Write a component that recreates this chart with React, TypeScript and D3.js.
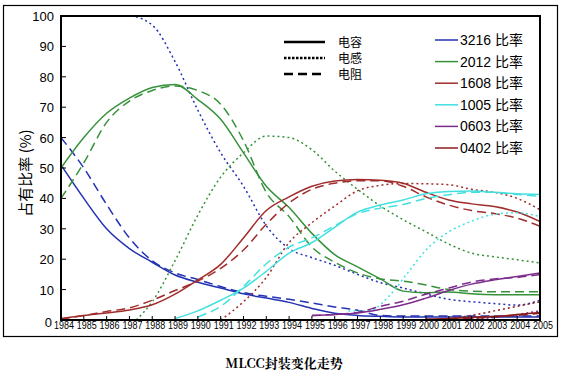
import React from "react";
import * as d3 from "d3";

const years = d3.range(1984, 2006);
const yTicks = [0, 10, 20, 30, 40, 50, 60, 70, 80, 90, 100];

const sizes = ["3216", "2012", "1608", "1005", "0603", "0402"];
const sizeColors = ["#2432b4", "#36923a", "#a02c2c", "#44e0e0", "#7c2c8c", "#8c1c1c"];
const styleNames = ["电容", "电感", "电阻"];

// [year, value] pairs per size / component type
const cap3216: [number, number][] = [[1984, 51], [1985, 40], [1986, 30], [1987, 23.5], [1988, 19], [1989, 14.8], [1990, 12.4], [1991, 10.5], [1992, 8.6], [1993, 7.2], [1994, 5.8], [1995, 3.8], [1996, 2.2], [1997, 1.5], [1998, 1.2], [1999, 1], [2000, 1], [2001, 1], [2002, 1], [2003, 1], [2004, 1], [2005, 1]];
const res3216: [number, number][] = [[1984, 60], [1985, 50], [1986, 38], [1987, 27], [1988, 19.5], [1989, 15.5], [1990, 13.3], [1991, 11], [1992, 9], [1993, 7.8], [1994, 6.8], [1995, 5.6], [1996, 4.3], [1997, 3.2], [1998, 1.5], [1999, 1.3], [2000, 1.3], [2001, 1.3], [2002, 1.3], [2003, 1.3], [2004, 1.3], [2005, 1.3]];
const ind3216: [number, number][] = [[1984, 100], [1985, 100], [1986, 100], [1987, 100], [1988, 97], [1989, 85], [1990, 69], [1991, 55], [1992, 44], [1993, 31], [1994, 23.5], [1995, 20.5], [1996, 18], [1997, 15], [1998, 12.3], [1999, 10.5], [2000, 8.6], [2001, 6.8], [2002, 6], [2003, 5.4], [2004, 4.9], [2005, 6.5]];

const cap2012: [number, number][] = [[1984, 50], [1985, 60], [1986, 68], [1987, 73], [1988, 76.5], [1989, 77.5], [1990, 72.5], [1991, 66], [1992, 55], [1993, 44], [1994, 37], [1995, 28.5], [1996, 21.5], [1997, 17.5], [1998, 13.5], [1999, 9.5], [2000, 9], [2001, 9.2], [2002, 8.6], [2003, 8.3], [2004, 8.3], [2005, 8.3]];
const res2012: [number, number][] = [[1984, 40], [1985, 51.7], [1986, 65], [1987, 72], [1988, 75.5], [1989, 77], [1990, 75.5], [1991, 71], [1992, 59], [1993, 42], [1994, 34], [1995, 24], [1996, 19], [1997, 15.5], [1998, 13.5], [1999, 12.8], [2000, 11.5], [2001, 10], [2002, 9.5], [2003, 9.3], [2004, 9.3], [2005, 9.3]];
const ind2012: [number, number][] = [[1987.3, 0], [1988, 6], [1989, 19.5], [1990, 34.5], [1991, 47], [1992, 55], [1993, 60.5], [1994, 60], [1995, 56], [1996, 49], [1997, 43], [1998, 37.5], [1999, 33], [2000, 29], [2001, 25], [2002, 22], [2003, 20.8], [2004, 19.8], [2005, 18.8]];

const cap1608: [number, number][] = [[1984, 0.5], [1985, 1.5], [1986, 2.3], [1987, 3.3], [1988, 5], [1989, 8.5], [1990, 13.2], [1991, 18.3], [1992, 27], [1993, 36], [1994, 40.5], [1995, 44], [1996, 45.7], [1997, 46.2], [1998, 46], [1999, 45], [2000, 42], [2001, 39.5], [2002, 38.2], [2003, 37.3], [2004, 35.5], [2005, 32.4]];
const res1608: [number, number][] = [[1984, 0.3], [1985, 1.5], [1986, 2.8], [1987, 4], [1988, 6.5], [1989, 9.7], [1990, 12.8], [1991, 17], [1992, 23], [1993, 31.5], [1994, 38.5], [1995, 43], [1996, 45], [1997, 45.8], [1998, 45.8], [1999, 44], [2000, 40.5], [2001, 37.8], [2002, 36], [2003, 35], [2004, 33.5], [2005, 30.8]];
const ind1608: [number, number][] = [[1991, 0], [1992, 6], [1993, 14], [1994, 25.5], [1995, 32], [1996, 37.5], [1997, 42.5], [1998, 44.3], [1999, 44.9], [2000, 44.8], [2001, 44.5], [2002, 43], [2003, 42], [2004, 40], [2005, 36.3]];

const cap1005: [number, number][] = [[1989, 0.5], [1990, 3], [1991, 6.5], [1992, 10.5], [1993, 16], [1994, 22], [1995, 25.5], [1996, 30.5], [1997, 35.5], [1998, 37.8], [1999, 39.5], [2000, 41.5], [2001, 42.3], [2002, 42.4], [2003, 42], [2004, 41.5], [2005, 41.3]];
const res1005: [number, number][] = [[1990, 1], [1991, 4.5], [1992, 11], [1993, 18.5], [1994, 24], [1995, 27], [1996, 31], [1997, 35], [1998, 36.8], [1999, 38], [2000, 40], [2001, 41.2], [2002, 42], [2003, 42], [2004, 41.3], [2005, 40.7]];
const ind1005: [number, number][] = [[1996.6, 3], [1997.5, 3], [1998.4, 8], [1999.2, 15.5], [2000, 23], [2001, 29], [2002, 32.5], [2003, 34.8], [2004, 35.3], [2005, 34]];

const cap0603: [number, number][] = [[1995, 1.5], [1996, 1.8], [1997, 2.3], [1998, 3.5], [1999, 5], [2000, 7.2], [2001, 9.7], [2002, 11.8], [2003, 13.2], [2004, 14.3], [2005, 15.5]];
const res0603: [number, number][] = [[1995, 1.5], [1996, 1.8], [1997, 2.5], [1998, 4.5], [1999, 6.2], [2000, 8.5], [2001, 10.5], [2002, 12.5], [2003, 13.5], [2004, 14], [2005, 15]];
const ind0603: [number, number][] = [[2002, 0.3], [2003, 0.8], [2004, 1.8], [2005, 3]];

const cap0402: [number, number][] = [[2000, 0.3], [2001, 0.5], [2002, 0.8], [2003, 1.2], [2004, 1.8], [2005, 2.5]];
const res0402: [number, number][] = [[2001, 0.3], [2002, 0.6], [2003, 1], [2004, 1.5], [2005, 2.2]];
const ind0402: [number, number][] = [[2001, 0.5], [2002, 1.5], [2003, 3], [2004, 4.5], [2005, 6]];

const seriesBySize = [
  [cap3216, ind3216, res3216],
  [cap2012, ind2012, res2012],
  [cap1608, ind1608, res1608],
  [cap1005, ind1005, res1005],
  [cap0603, ind0603, res0603],
  [cap0402, ind0402, res0402],
];

const W = 563;
const H = 376;
const left = 61, right = 540, top = 16, bottom = 320;
const dashes = [null, "2,3", "9,5"];

export default function App() {
  const x = d3.scaleLinear().domain([1984, 2005]).range([left, right]);
  const y = d3.scaleLinear().domain([0, 100]).range([bottom, top]);
  const line = d3.line<[number, number]>().x(d => x(d[0])).y(d => y(d[1])).curve(d3.curveMonotoneX);

  return (
    <svg width={W} height={H} style={{ position: "absolute", left: 0, top: 0, background: "#fff" }}>
      <defs>
        <clipPath id="plot">
          <rect x={left} y={top - 1} width={right - left} height={bottom - top + 1} />
        </clipPath>
      </defs>
      <rect x={0} y={0} width={W} height={H} fill="#fff" />
      <rect x={3.5} y={5.5} width={554} height={331} fill="none" stroke="#000" strokeWidth={1.2} />

      <g clipPath="url(#plot)">
        {seriesBySize.map((group, si) =>
          group.map((data, ti) => (
            <path key={`${si}-${ti}`} d={line(data) || ""} fill="none" stroke={sizeColors[si]}
              strokeWidth={1.5} strokeDasharray={dashes[ti] || undefined} />
          ))
        )}
      </g>

      <rect x={left} y={top} width={right - left} height={bottom - top} fill="none" stroke="#000" strokeWidth={2} />

      {yTicks.map(t => (
        <g key={t}>
          {t > 0 && t < 100 && <line x1={left} x2={left + 5} y1={y(t)} y2={y(t)} stroke="#000" strokeWidth={1} />}
          <text x={t === 0 ? 52 : 54} y={y(t) + (t === 0 ? 7 : 5)} textAnchor="end" fontFamily="Liberation Sans, Arial, sans-serif"
            fontSize={13} fill="#000">{t}</text>
        </g>
      ))}

      {years.map(yr => (
        <g key={yr}>
          {yr > 1984 && yr < 2005 && <line x1={x(yr)} x2={x(yr)} y1={bottom} y2={bottom - 4} stroke="#000" strokeWidth={1} />}
          <text x={x(yr) + 3} y={bottom + 9} textAnchor="middle" fontFamily="Liberation Sans, Arial, sans-serif"
            fontSize={11} textLength={20} lengthAdjust="spacingAndGlyphs" fill="#000">{yr}</text>
        </g>
      ))}

      <text transform={`translate(31,173) rotate(-90)`} textAnchor="middle" fontFamily="Noto Sans CJK SC, sans-serif"
        fontSize={15} fill="#000">占有比率 (%)</text>

      {styleNames.map((name, i) => (
        <g key={name}>
          <line x1={284} x2={325} y1={42 + i * 16} y2={42 + i * 16} stroke="#000" strokeWidth={2.5}
            strokeDasharray={i === 0 ? undefined : i === 1 ? "2.5,1.5" : "9,5"} />
          <text x={338} y={47 + i * 16} fontFamily="Noto Sans CJK SC, sans-serif" fontSize={12} fill="#000">{name}</text>
        </g>
      ))}

      {sizes.map((s, i) => (
        <g key={s}>
          <line x1={435} x2={458} y1={40 + i * 21.6} y2={40 + i * 21.6} stroke={sizeColors[i]} strokeWidth={1.5} />
          <text x={460} y={45 + i * 21.6} fontFamily="Liberation Sans, Arial, sans-serif" fontSize={14} fill="#000">
            {s} <tspan fontFamily="Noto Sans CJK SC, sans-serif">比率</tspan>
          </text>
        </g>
      ))}

      <text x={284} y={368} textAnchor="middle" fontFamily="Noto Serif CJK SC, DejaVu Serif, serif" fontWeight="bold"
        fontSize={13} fill="#000">MLCC封装变化走势</text>
    </svg>
  );
}
